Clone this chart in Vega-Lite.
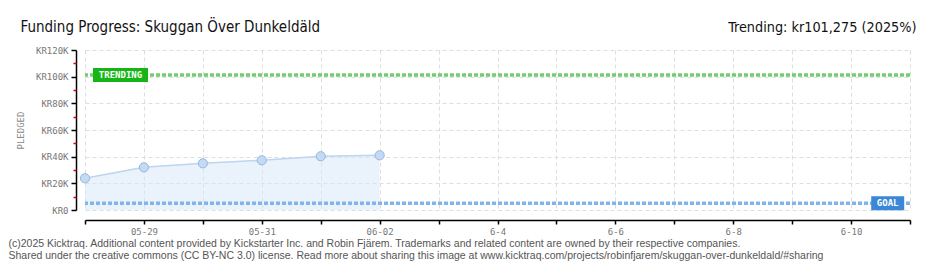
{
  "$schema": "https://vega.github.io/schema/vega-lite/v6.json",
  "width": 825,
  "height": 160,
  "autosize": "none",
  "padding": {"left": 85, "top": 50, "right": 30, "bottom": 60},
  "background": "white",
  "config": {"view": {"stroke": null}},
  "datasets": {
    "pledged": [
      {"date": "2025-05-28", "pledged": 23800},
      {"date": "2025-05-29", "pledged": 32000},
      {"date": "2025-05-30", "pledged": 35000},
      {"date": "2025-05-31", "pledged": 37300},
      {"date": "2025-06-01", "pledged": 40300},
      {"date": "2025-06-02", "pledged": 41000}
    ],
    "trend": [{"date": "2025-05-28", "amount": 101275, "label": "TRENDING"}],
    "goal": [{"date": "2025-06-11", "amount": 5000, "label": "GOAL"}]
  },
  "resolve": {"axis": {"x": "independent", "y": "independent"}},
  "layer": [
    {
      "data": {"name": "pledged"},
      "mark": {"type": "area", "color": "#d6e6f8", "opacity": 0.5},
      "encoding": {
        "x": {
          "field": "date", "type": "temporal",
          "scale": {"type": "utc", "domain": [{"year": 2025, "month": 5, "date": 28, "utc": true}, {"year": 2025, "month": 6, "date": 11, "utc": true}]},
          "axis": {
            "orient": "bottom", "offset": 10,
            "tickCount": {"interval": "day", "step": 1},
            "labelExpr": "round((time(datum.value) - utc(2025,4,28)) / 86400000) % 2 == 1 ? (time(datum.value) <= utc(2025,5,2) ? utcFormat(datum.value, '%m-%d') : utcFormat(datum.value, '%-m-%-d')) : ''",
            "labelOverlap": false, "labelFlush": false,
            "grid": true, "gridColor": "#dedede", "gridDash": [4, 3],
            "domainColor": "#000", "domainWidth": 1.5,
            "tickColor": "#000", "tickSize": 4, "tickWidth": 1.5,
            "labelFont": "DejaVu Sans Mono", "labelFontSize": 9, "labelColor": "#777", "labelPadding": 3,
            "title": ["(c)2025 Kicktraq. Additional content provided by Kickstarter Inc. and Robin Fjärem. Trademarks and related content are owned by their respective companies.", "Shared under the creative commons (CC BY-NC 3.0) license. Read more about sharing this image at www.kicktraq.com/projects/robinfjarem/skuggan-over-dunkeldald/#sharing"],
            "titleFont": "Liberation Sans", "titleFontSize": 10.5, "titleFontWeight": "normal", "titleColor": "#555",
            "titleAlign": "left", "titleAnchor": "start", "titleX": -77, "titleY": 26, "titleBaseline": "alphabetic", "titleLineHeight": 12
          }
        },
        "y": {
          "field": "pledged", "type": "quantitative",
          "scale": {"domain": [0, 120000]},
          "axis": {
            "orient": "left", "offset": 9,
            "values": [0, 20000, 40000, 60000, 80000, 100000, 120000],
            "labelExpr": "datum.value == 0 ? 'KR0' : 'KR' + (datum.value / 1000) + 'K'",
            "grid": true, "gridColor": "#dedede", "gridDash": [4, 3],
            "domainColor": "#000", "domainWidth": 1.5,
            "tickColor": "#000", "tickSize": 5, "tickWidth": 1.5,
            "labelFont": "DejaVu Sans Mono", "labelFontSize": 9, "labelColor": "#777", "labelPadding": 3,
            "title": "PLEDGED", "titleFont": "DejaVu Sans Mono", "titleFontSize": 9, "titleFontWeight": "normal", "titleColor": "#888",
            "titleAngle": -90, "titleX": -56, "titleY": 80, "titleAlign": "center", "titleBaseline": "middle"
          }
        }
      }
    },
    {
      "data": {"name": "pledged"},
      "mark": {"type": "line", "color": "#bcd5f0", "strokeWidth": 1.5},
      "encoding": {
        "x": {
          "field": "date", "type": "temporal",
          "axis": {
            "orient": "top", "labels": false, "ticks": false, "domain": false, "grid": false,
            "title": "Trending: kr101,275 (2025%)",
            "titleFont": "DejaVu Sans Condensed", "titleFontSize": 14.3, "titleFontWeight": "normal", "titleColor": "#111",
            "titleX": 831, "titleY": -19, "titleAlign": "right", "titleBaseline": "alphabetic"
          }
        },
        "y": {"field": "pledged", "type": "quantitative", "axis": null}
      }
    },
    {
      "data": {"name": "pledged"},
      "mark": {"type": "point", "filled": true, "fill": "#c3d9f4", "stroke": "#98b6dc", "strokeWidth": 1, "size": 85, "opacity": 1},
      "encoding": {
        "x": {"field": "date", "type": "temporal", "axis": null},
        "y": {
          "field": "pledged", "type": "quantitative",
          "axis": {
            "orient": "left", "offset": 9,
            "values": [10000, 30000, 50000, 70000, 90000, 110000],
            "labels": false, "domain": false, "grid": false,
            "tickColor": "#e00000", "tickSize": 3, "tickWidth": 1.5,
            "title": "Funding Progress: Skuggan Över Dunkeldäld",
            "titleFont": "DejaVu Sans Condensed", "titleFontSize": 15, "titleFontWeight": "normal", "titleColor": "#111",
            "titleAngle": 0, "titleX": -56, "titleY": -19, "titleAlign": "left", "titleBaseline": "alphabetic"
          }
        }
      }
    },
    {
      "data": {"name": "trend"},
      "mark": {"type": "rule", "color": "#74cc74", "strokeWidth": 3.5, "strokeDash": [4, 2]},
      "encoding": {"y": {"field": "amount", "type": "quantitative", "axis": null}}
    },
    {
      "data": {"name": "goal"},
      "mark": {"type": "rule", "color": "#80b4ea", "strokeWidth": 3.5, "strokeDash": [4, 2]},
      "encoding": {"y": {"field": "amount", "type": "quantitative", "axis": null}}
    },
    {
      "data": {"name": "trend"},
      "mark": {"type": "point", "filled": true, "color": "#14b514", "opacity": 1, "size": 3025, "shape": "M-1,-0.255L1,-0.255L1,0.255L-1,0.255Z", "xOffset": 35.5},
      "encoding": {
        "x": {"field": "date", "type": "temporal", "axis": null},
        "y": {"field": "amount", "type": "quantitative", "axis": null}
      }
    },
    {
      "data": {"name": "trend"},
      "mark": {"type": "text", "color": "white", "font": "DejaVu Sans Mono", "fontSize": 9, "fontWeight": "bold", "align": "center", "baseline": "middle", "dx": 35.5},
      "encoding": {
        "x": {"field": "date", "type": "temporal", "axis": null},
        "y": {"field": "amount", "type": "quantitative", "axis": null},
        "text": {"field": "label"}
      }
    },
    {
      "data": {"name": "goal"},
      "mark": {"type": "point", "filled": true, "color": "#3a87d6", "opacity": 1, "size": 1089, "shape": "M-1,-0.424L1,-0.424L1,0.424L-1,0.424Z", "xOffset": -22.3},
      "encoding": {
        "x": {"field": "date", "type": "temporal", "axis": null},
        "y": {"field": "amount", "type": "quantitative", "axis": null}
      }
    },
    {
      "data": {"name": "goal"},
      "mark": {"type": "text", "color": "white", "font": "DejaVu Sans Mono", "fontSize": 9, "fontWeight": "bold", "align": "center", "baseline": "middle", "dx": -22.3},
      "encoding": {
        "x": {"field": "date", "type": "temporal", "axis": null},
        "y": {"field": "amount", "type": "quantitative", "axis": null},
        "text": {"field": "label"}
      }
    }
  ]
}
